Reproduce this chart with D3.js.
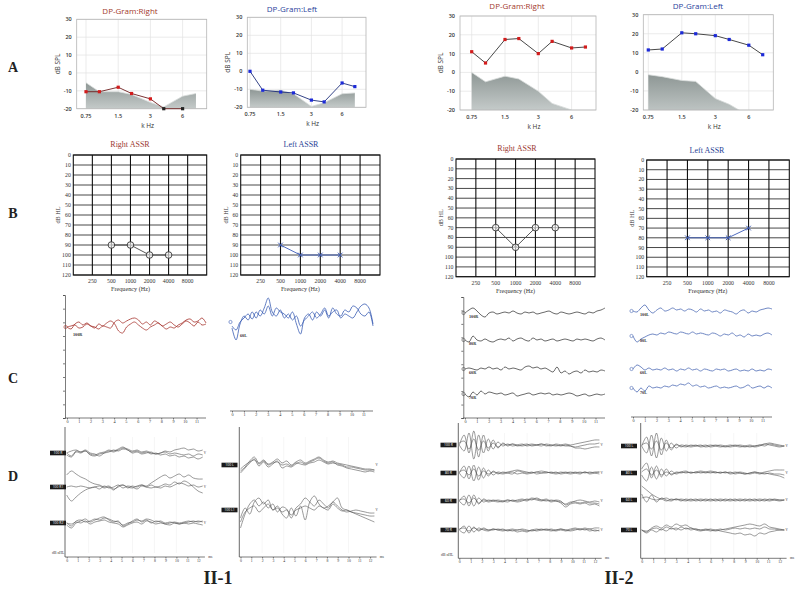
<!DOCTYPE html>
<html>
<head>
<meta charset="utf-8">
<script src="https://cdn.jsdelivr.net/npm/d3@7"></script>
<style>
  body { margin: 0; background: #fff; }
  svg { display: block; }
</style>
</head>
<body>
<svg id="fig" width="800" height="592"></svg>
<script>
// ---------- data: DP-gram (A) ----------
const dpFreqs = [0.75, 1, 1.5, 2, 3, 4, 6, 8];
const dpTickFreqs = [0.75, 1.5, 3, 6];
const dpTickLabels = ["0.75", "1.5", "3", "6"];
const dpLevels = [30, 20, 10, 0, -10, -20];

const dpRight1 = [-10.5, -10.5, -8, -11.5, -14.5, -20, -20];
const dpRightNoise1 = [-5.5, -10.5, -10.5, -12, -16.5, -19, -13, -11.5];
const dpLeft1 = [0, -10.5, -11.5, -12, -16, -17, -6.5, -8.5];
const dpLeftNoise1 = [-10, -11, -10.5, -12.5, -19.5, -17.5, -12.5, -12];
const dpRight2 = [11, 5, 17.5, 18, 10, 16.5, 13, 13.5];
const dpRightNoise2 = [0, -5, -2, -3.5, -10, -16.5, -20];
const dpLeft2 = [11.5, 12, 20.5, 20, 19, 17, 14, 9];
const dpLeftNoise2 = [-1.5, -2.5, -4.5, -5, -14, -17, -23];

// ---------- data: ASSR audiograms (B) ----------
const assrGridFreqs = [250, 500, 1000, 2000, 4000, 8000];
const assrLevels = [0, 10, 20, 30, 40, 50, 60, 70, 80, 90, 100, 110, 120];
const assrTestFreqs = [500, 1000, 2000, 4000];
const assrRight1 = [90, 90, 100, 100];
const assrLeft1 = [90, 100, 100, 100];
const assrRight2 = [70, 90, 70, 70];
const assrLeft2 = [80, 80, 80, 70];

// ---------- data: ASSR response waves (C) ----------
const cTicks = [0, 1, 2, 3, 4, 5, 6, 7, 8, 9, 10, 11];
const cTimeEnd = 11.8;
const cRight1a = [0, -2, 3, 5, 2, 4, 1, -1, 3, 1, 4, 6, 3, -4, -6, 0, 3, 5, 2, -1, -3, 0, 2, 4, 1, 3, 5, 2, 0, 3, 6, 4, 1, 5, 2, 3];
const cRight1b = [0, 1, 2, -1, 0, 3, 1, 0, -2, 1, 0, -1, 5, 7, 4, 6, 8, 9, 7, 3, 5, 2, 6, 4, 1, -2, 0, -1, 2, 4, 7, 8, 5, 6, 9, 4];
const cLeft1a = [-6, -18, -2, 6, 2, 10, 4, 12, 8, 16, 6, 14, 10, 8, 4, 10, -2, -12, 4, 8, 2, 10, 6, 12, 4, 14, 8, 6, 12, 10, 16, 14, 8, 6, 10, -4];
const cLeft1b = [-4, -8, 0, 4, 8, 3, 10, 6, 14, 24, 10, 6, 12, 4, 8, 2, 6, -4, 2, 6, 10, 4, 8, 14, 6, 10, 12, 4, 8, 6, 4, 10, 16, 18, 14, -2];
const cRight2 = [
  [0, 3, 5, 2, -2, -4, 0, 1, -1, 0, 1, 0, 2, 0, -1, 1, 0, 1, -1, 0, 1, 2, 0, -1, 1, 0, -1, 0, 1, 0, -1, 1, 0, 2, 3, 5],
  [0, -2, 4, 0, -1, 1, -1, -2, 0, 1, 0, 2, -1, 1, 2, 0, -1, 2, 0, 1, -1, 0, 1, -1, 0, 1, 0, -1, 1, 0, 1, 0, -1, 1, 2, 0],
  [0, 1, 0, -1, 1, 0, 2, 0, 1, -1, 2, 0, 1, 0, -1, 2, 3, 1, 2, 0, 1, -1, -3, 2, -4, -2, -5, -3, -2, -4, -1, -3, -2, -3, -1, -2],
  [0, -3, 2, -1, 3, 0, 2, 1, 0, 1, -1, 0, 1, -2, -1, 0, 1, -1, 0, 1, 0, 1, -1, 0, -1, 0, 1, 0, -2, -1, 0, -2, -1, 0, -1, 0]
];
const cLeft2 = [
  [0, -1, 3, 6, 1, -2, 1, 3, 0, 1, 3, 1, 2, 0, 2, 1, -1, 2, 0, 1, -1, 0, -2, 1, 0, -1, -3, 0, 1, -2, 0, -1, 1, 2, 3, 2],
  [0, -6, -3, -1, 1, 2, 1, 3, 2, 4, 3, 2, 4, 3, 2, 4, 2, 3, 2, 1, 3, 2, 0, 2, 1, 3, 0, 1, -1, 2, 0, 1, 0, 2, 3, 1],
  [0, 4, 2, -1, 1, -1, 0, -1, 1, -1, 0, -2, 0, -1, 1, -1, 0, -2, 0, -1, -2, 0, -1, 0, -2, -1, 0, -2, -1, -2, 0, -2, -1, -2, 0, -1],
  [0, -4, 0, -3, 2, 0, 1, 0, 2, 1, 3, 2, 4, 3, 5, 2, 3, 1, 2, 0, 1, 2, 0, 1, 0, 1, 2, 0, 1, 3, 0, 1, 2, 0, 2, 0]
];
const cLabelsRight2 = ["100R", "80R", "60R", "70R"];
const cLabelsLeft2 = ["100L", "80L", "60L", "70L"];

// ---------- data: ABR waves (D), three runs per level ----------
const dTicks = [0, 1, 2, 3, 4, 5, 6, 7, 8, 9, 10, 11, 12];
const dTimeEnd = 12.4;
const dRight1 = [
  [[0, -3, 2, 1, 3, 0, -1, -3, 0, 2, 1, 3, 5, 4, 2, 3, 1, 2, 0, -1, 0, 2, 1, 3, 4, 5, 3, 4, 2, 3],
   [0, 2, 3, 1, 2, -1, -2, 0, 1, 3, 2, 4, 6, 3, 1, 2, 0, 1, -1, 0, -2, -1, -3, -2, -4, -3, -5, -4, -6, -4],
   [-2, -4, 1, 0, 2, -2, -3, -1, 0, 1, 3, 2, 4, 3, 0, 1, -1, 0, 1, -1, 0, 1, -1, 0, -1, -2, -1, -3, -1, -2]],
  [[12, 16, 13, 10, 8, 5, 3, 2, 0, 1, -2, 0, 2, -1, 1, 0, 2, 1, 4, 7, 10, 12, 9, 11, 13, 10, 12, 9, 8, 8],
   [-8, -14, -10, -6, -3, -1, 0, -2, 1, -1, 0, 2, -1, 1, 0, -2, 1, 0, 2, 0, 1, 3, 2, 5, 3, 6, 4, 0, -4, -6],
   [0, 1, 0, 1, 0, -1, 0, 1, -1, 0, -3, 1, 2, 0, -1, 1, 2, 0, -1, 0, -1, 1, 0, 2, 4, 3, 1, 2, 0, 1]],
  [[0, -3, 2, 3, 1, 2, 4, 3, 5, 4, 2, 1, -2, 0, 1, 3, 2, 4, 3, 1, 2, 0, 1, 0, -1, 0, 1, 2, 1, 2],
   [-2, -5, 0, 2, 4, 1, 3, 5, 6, 3, 1, 2, -3, -1, 2, 4, 1, 3, 0, 2, 1, -1, 0, 1, 0, 1, 2, 1, 2, 1],
   [0, -1, 1, 0, 2, -1, 1, 2, 3, 1, 0, -1, -4, -2, 0, 1, -1, 2, 1, -1, 0, -1, -2, 0, -1, 0, -1, 0, -1, -2]]
];
const dLeft1 = [
  [[-6, -2, 4, 8, 2, 5, 1, 3, 6, 2, 4, 0, 3, 5, 2, 4, 6, 8, 5, 3, 4, 2, 1, 0, -1, -2, -3, -4, -4, -5],
   [-8, -3, 2, 6, -1, 3, -2, 1, 4, -3, -1, -2, 1, 3, 1, 3, 5, 7, 4, 2, 3, 0, -1, -3, -4, -5, -6, -7, -6, -7],
   [-4, 0, 3, 5, 1, 4, 0, 2, 3, 0, 1, -1, 2, 1, 0, 2, 3, 5, 3, 1, 2, 1, 0, -2, -2, -3, -4, -5, -5, -5]],
  [[-18, -4, 6, 10, 4, 8, 2, 6, -2, 3, 1, -8, 2, 6, 12, 8, 4, 10, 6, 2, 8, 4, 0, -2, -1, 0, -1, -2, -3, -3],
   [-8, 2, -4, 8, 12, 6, 10, 0, 4, -4, -8, 2, -6, 4, -10, 8, 14, 6, 2, 4, 8, 12, 2, 0, -2, -4, -6, -8, -10, -12],
   [-12, -2, 2, 4, -2, 2, 6, 0, 2, -2, 0, -5, 0, 2, 4, 2, 0, 4, 2, 0, 6, 2, -1, 0, -2, -3, -4, -5, -6, -6]]
];
const dRight2 = [
  [[0, 10, -8, 14, -12, 10, -6, 5, -3, 2, -1, 1, 0, -1, 0, 1, 0, -1, 1, 0, -1, 0, 1, 0, 1, 2, 3, 4, 5, 5],
   [0, -6, 12, -14, 10, -8, 6, -4, 3, -1, 1, -1, 0, 1, -1, 0, 0, 1, -1, 0, 0, -1, 0, -1, -2, -1, 0, 1, 1, 2],
   [2, 4, -4, 6, -5, 4, -3, 2, -2, 1, 0, 1, -1, 0, 1, -1, 0, 1, 0, -1, 1, 0, -1, -1, -3, -3, -4, -3, -2, -2]],
  [[0, 7, -6, 8, -7, 5, -3, 2, -1, 1, 0, -1, 2, 1, 0, 1, -1, 0, 1, 0, 1, -1, 0, 1, 0, -1, 1, 0, 1, 1],
   [0, -5, 7, -8, 6, -5, 3, -2, 1, 0, 1, 2, 3, 2, 1, 0, 1, 2, 1, 0, -1, 0, 1, 0, 1, 0, 1, -1, 0, 1],
   [1, 3, -2, 4, -3, 2, -1, 1, 0, -1, 0, 1, -1, 0, -1, 0, 1, 0, 0, 1, 0, 1, 0, -1, 0, 1, 0, 1, 0, -1]],
  [[0, 5, -5, 6, -3, 2, 0, 1, 0, -1, 1, 0, 1, 2, 1, 3, 2, 1, 2, 0, 1, 0, -4, -2, 0, 1, 0, -1, 0, -1],
   [0, -4, 6, -5, 3, -1, 1, 0, -1, 0, 1, 0, -1, 0, 2, 1, 3, 1, 0, 1, 0, -2, -6, -3, -2, -3, -2, -4, -3, -5],
   [1, 2, -2, 3, -2, 1, -1, 0, 1, 0, -1, 1, 0, 1, 0, 2, 1, 0, 1, -1, 0, -1, -3, -1, -1, -2, -1, -2, -2, -3]],
  [[0, 4, -3, 3, -1, 2, 0, 1, 0, -1, 0, 1, 0, 1, 0, -1, 0, 1, 0, 1, 0, 1, 0, 1, 2, 1, 2, 1, 2, 2],
   [0, -3, 4, -2, 2, 0, -1, 1, 0, 1, -1, 0, -2, -1, -2, 0, -1, 0, 1, 0, -1, 0, -1, 0, 1, 0, 1, -1, 0, -1],
   [1, 2, -1, 2, 0, 1, 0, 0, 1, 0, 0, -1, 0, 0, -1, 0, 1, 0, 0, -1, 0, 1, 0, -1, 0, 1, 0, 1, -1, 0]]
];
const dLeft2 = [
  [[0, 9, -10, 13, -9, 6, -4, 2, -1, 1, 0, 1, -1, 0, 1, 0, -1, 0, 1, 0, -1, 0, 1, 0, 1, 2, 3, 2, 1, 0],
   [0, -7, 11, -12, 8, -5, 3, -2, 1, 0, -1, 0, 1, -1, 0, 1, 0, -1, 0, 1, 0, -1, 0, -1, 0, 2, 1, 0, -1, 0],
   [1, 3, -3, 5, -4, 3, -2, 1, 0, -1, 1, 0, 0, 1, -1, 0, 1, 0, -1, 0, 1, 0, -1, 0, 1, 0, 2, 1, 0, 0]],
  [[4, 10, -5, 7, -4, 4, -2, 1, 0, 1, 0, 1, 2, 1, 0, 1, 0, 1, 0, 1, 0, -1, 0, 1, 0, 1, 2, 3, 3, 3],
   [-2, -8, 6, -6, 4, -3, 2, -1, 1, 2, 0, 1, 0, 1, 2, 1, 0, 1, -1, 0, 1, 0, -1, 0, -1, 0, -1, -2, -3, -5],
   [1, 4, -2, 3, -2, 1, -1, 0, 1, 0, 1, 0, 1, 0, 1, 0, 1, 0, 1, -1, 0, -1, 0, 1, 0, -1, 0, -1, -1, -2]],
  [[14, 10, 6, 3, 1, 2, 0, 1, -1, 1, 0, 1, -1, 1, 0, 1, -1, 1, 0, 1, -1, 1, 0, 1, -1, 1, 0, 1, 0, 0],
   [6, -2, 5, -2, 2, 0, -1, 1, 0, -1, 1, -1, 0, -1, 1, -1, 0, -1, 1, -1, 0, -1, 1, -1, 0, -1, 1, 0, -1, 0],
   [2, 3, 1, 0, 1, -1, 1, 0, 1, 0, -1, 0, 1, 0, -1, 0, 1, 0, -1, 0, 1, 0, -1, 0, 1, 0, -1, 0, 0, 0]],
  [[0, -2, 2, 4, 2, 5, 3, 6, 4, 5, 2, 1, 0, 1, 0, -1, 0, 1, 2, 3, 4, 5, 6, 5, 4, 6, 3, 2, 1, 0],
   [0, -3, 0, -2, 1, -1, 2, 0, 3, 1, 2, 0, -1, 0, -1, 0, -1, -2, -3, -4, -3, -5, -4, -6, -3, -4, -2, -1, 0, 0],
   [0, -1, 1, 2, 0, 3, 1, 2, 0, 2, 0, 1, 0, 0, 1, 0, 1, 0, 1, 2, 1, 2, 1, 2, 1, 3, 1, 1, 0, 0]]
];
const dLabelsRight1 = ["100 R", "100 R1", "100 R2"];
const dLabelsLeft1 = ["100 L", "100 L1"];
const dLabelsRight2 = ["100 R", "80 R", "60 R", "70 R"];
const dLabelsLeft2 = ["100 L", "80 L", "60 L", "70 L"];

// ---------- drawing ----------
const svg = d3.select("#fig");
svg.append("rect").attr("width", 800).attr("height", 592).attr("fill", "#fff");

const serif = "'Liberation Serif', 'DejaVu Serif', serif";
const sans = "'Open Sans', 'Liberation Sans', sans-serif";

// gradient for the noise floor
const defs = svg.append("defs");
const grad = defs.append("linearGradient").attr("id", "noiseGrad").attr("x1", 0).attr("y1", 0).attr("x2", 0).attr("y2", 1);
grad.append("stop").attr("offset", "0%").attr("stop-color", "#8e9795");
grad.append("stop").attr("offset", "100%").attr("stop-color", "#c4cac9");

// row letters and group names
[["A", 67], ["B", 213], ["C", 378], ["D", 476]].forEach(([t, y]) => {
  svg.append("text").attr("x", 13).attr("y", y + 5).attr("text-anchor", "middle")
    .attr("font-family", serif).attr("font-weight", "bold").attr("font-size", 14).attr("fill", "#222").text(t);
});
[["II-1", 218], ["II-2", 619]].forEach(([t, x]) => {
  svg.append("text").attr("x", x).attr("y", 584).attr("text-anchor", "middle")
    .attr("font-family", serif).attr("font-weight", "bold").attr("font-size", 18).attr("fill", "#222").text(t);
});

// ----- A: DP-grams -----
const dpPanels = [
  { title: "DP-Gram:Right", tc: "#a33a2c", pc: "#d21c1c", lc: "#6e1d1d", vals: dpRight1, noise: dpRightNoise1,
    l: 76.7, r: 206.7, t: 19.3, b: 108.7, x0: 86, oct: 32.2, tx: 130, ty: 13.5, ylab: true },
  { title: "DP-Gram:Left", tc: "#2b3f9c", pc: "#1c2ad8", lc: "#1e2f7a", vals: dpLeft1, noise: dpLeftNoise1,
    l: 247.3, r: 366, t: 17.3, b: 107.3, x0: 250, oct: 30.7, tx: 292, ty: 12, ylab: true },
  { title: "DP-Gram:Right", tc: "#a33a2c", pc: "#d21c1c", lc: "#333", vals: dpRight2, noise: dpRightNoise2,
    l: 460, r: 596, t: 16, b: 110, x0: 471.7, oct: 33.3, tx: 517, ty: 9, ylab: true },
  { title: "DP-Gram:Left", tc: "#2b3f9c", pc: "#1c2ad8", lc: "#333", vals: dpLeft2, noise: dpLeftNoise2,
    l: 643.3, r: 773.3, t: 14.7, b: 110, x0: 648.3, oct: 33.5, tx: 698, ty: 9, ylab: false }
];

dpPanels.forEach((p, k) => {
  const g = svg.append("g");
  const x = d3.scaleLog().base(2).domain([0.75, 6]).range([p.x0, p.x0 + 3 * p.oct]);
  const y = d3.scaleLinear().domain([-20, 30]).range([p.b, p.t]);
  const clipId = "dpclip" + k;
  defs.append("clipPath").attr("id", clipId).append("rect")
    .attr("x", p.l).attr("y", p.t).attr("width", p.r - p.l).attr("height", p.b - p.t);

  g.selectAll(".hg").data(dpLevels).join("line")
    .attr("x1", p.l).attr("x2", p.r).attr("y1", d => y(d)).attr("y2", d => y(d))
    .attr("stroke", "#e2e2e2").attr("stroke-width", 0.7);
  g.selectAll(".vg").data(dpTickFreqs).join("line")
    .attr("x1", d => x(d)).attr("x2", d => x(d)).attr("y1", p.t).attr("y2", p.b)
    .attr("stroke", "#e2e2e2").attr("stroke-width", 0.7);

  const area = d3.area().x((d, i) => x(dpFreqs[i])).y0(p.b).y1(d => y(d));
  const inner = g.append("g").attr("clip-path", `url(#${clipId})`);
  inner.append("path").datum(p.noise).attr("d", area).attr("fill", "url(#noiseGrad)");
  inner.append("path").datum(p.noise)
    .attr("d", d3.line().x((d, i) => x(dpFreqs[i])).y(d => y(d)))
    .attr("fill", "none").attr("stroke", "#d8dcdb").attr("stroke-width", 0.8);

  g.append("rect").attr("x", p.l).attr("y", p.t).attr("width", p.r - p.l).attr("height", p.b - p.t)
    .attr("fill", "none").attr("stroke", "#b5b5b5").attr("stroke-width", 0.8);

  g.append("path").datum(p.vals)
    .attr("d", d3.line().x((d, i) => x(dpFreqs[i])).y(d => y(d)))
    .attr("fill", "none").attr("stroke", p.lc).attr("stroke-width", 0.9);
  g.selectAll(".pt").data(p.vals).join("rect")
    .attr("x", (d, i) => x(dpFreqs[i]) - 1.6).attr("y", d => y(d) - 1.6)
    .attr("width", 3.2).attr("height", 3.2)
    .attr("fill", d => d <= -20 ? "#222" : p.pc);

  g.selectAll(".yl").data(dpLevels).join("text")
    .attr("x", p.l - 5).attr("y", d => y(d) + 2).attr("text-anchor", "end")
    .attr("font-family", sans).attr("font-weight", 600).attr("font-size", 5.5).attr("fill", "#333")
    .text(d => d);
  g.selectAll(".xl").data(dpTickFreqs).join("text")
    .attr("x", d => x(d)).attr("y", p.b + 9).attr("text-anchor", "middle")
    .attr("font-family", sans).attr("font-weight", 600).attr("font-size", 5.5).attr("fill", "#333")
    .text((d, i) => dpTickLabels[i]);
  g.append("text").attr("x", (p.l + p.r) / 2 + 6).attr("y", p.b + 19).attr("text-anchor", "middle")
    .attr("font-family", sans).attr("font-size", 6.5).attr("fill", "#333").text("k Hz");
  if (p.ylab) {
    g.append("text").attr("transform", `translate(${p.l - 17},${y(5)}) rotate(-90)`).attr("text-anchor", "middle")
      .attr("font-family", sans).attr("font-size", 6.5).attr("fill", "#333").text("dB SPL");
  }
  g.append("text").attr("x", p.tx).attr("y", p.ty).attr("text-anchor", "middle")
    .attr("font-family", sans).attr("font-size", 8).attr("fill", p.tc).text(p.title);
});

// ----- B: ASSR audiograms -----
const assrPanels = [
  { title: "Right ASSR", tc: "#9c3a34", vals: assrRight1, mark: "o", joined: 4, l: 73.3, r: 206.7, t: 155, b: 275, tx: 130, ty: 147 },
  { title: "Left ASSR", tc: "#2a3f96", vals: assrLeft1, mark: "x", joined: 4, l: 240.7, r: 380, t: 155, b: 275, tx: 301, ty: 147 },
  { title: "Right ASSR", tc: "#9c3a34", vals: assrRight2, mark: "o", joined: 3, l: 456, r: 595, t: 159, b: 276.7, tx: 517, ty: 151 },
  { title: "Left ASSR", tc: "#2a3f96", vals: assrLeft2, mark: "x", joined: 4, l: 646.7, r: 789.3, t: 160, b: 276.7, tx: 707, ty: 153 }
];

assrPanels.forEach(p => {
  const g = svg.append("g");
  const x = d3.scaleLog().base(2).domain([125, 16000]).range([p.l, p.r]);
  const y = d3.scaleLinear().domain([0, 120]).range([p.t, p.b]);

  g.selectAll(".h").data(assrLevels).join("line")
    .attr("x1", p.l).attr("x2", p.r).attr("y1", d => y(d)).attr("y2", d => y(d))
    .attr("stroke", "#333").attr("stroke-width", 0.9);
  g.selectAll(".v").data(assrGridFreqs).join("line")
    .attr("x1", d => x(d)).attr("x2", d => x(d)).attr("y1", p.t).attr("y2", p.b)
    .attr("stroke", "#111").attr("stroke-width", 1.1);
  g.append("rect").attr("x", p.l).attr("y", p.t).attr("width", p.r - p.l).attr("height", p.b - p.t)
    .attr("fill", "none").attr("stroke", "#111").attr("stroke-width", 1.1);

  g.selectAll(".yl").data(assrLevels).join("text")
    .attr("x", p.l - 2.5).attr("y", d => y(d) + 2).attr("text-anchor", "end")
    .attr("font-family", serif).attr("font-size", 5.8).attr("fill", "#333").text(d => d);
  g.selectAll(".xl").data(assrGridFreqs).join("text")
    .attr("x", d => x(d)).attr("y", p.b + 8).attr("text-anchor", "middle")
    .attr("font-family", serif).attr("font-size", 5.8).attr("fill", "#333").text(d => d);
  g.append("text").attr("x", x(1000)).attr("y", p.b + 16).attr("text-anchor", "middle")
    .attr("font-family", serif).attr("font-size", 6.2).attr("fill", "#333").text("Frequency (Hz)");
  g.append("text").attr("transform", `translate(${p.l - 13},${y(60)}) rotate(-90)`).attr("text-anchor", "middle")
    .attr("font-family", serif).attr("font-size", 6.2).attr("fill", "#333").text("dB HL");
  g.append("text").attr("x", p.tx).attr("y", p.ty).attr("text-anchor", "middle")
    .attr("font-family", serif).attr("font-size", 8).attr("fill", p.tc).text(p.title);

  const isX = p.mark === "x";
  const col = isX ? "#3c5bb8" : "#444";
  const pts = p.vals.map((v, i) => [x(assrTestFreqs[i]), y(v)]);
  g.append("path").attr("d", d3.line()(pts.slice(0, p.joined)))
    .attr("fill", "none").attr("stroke", col).attr("stroke-width", 0.9);
  if (isX) {
    pts.forEach(([px, py]) => {
      g.append("path").attr("d", `M${px - 2.3},${py - 2.3}L${px + 2.3},${py + 2.3}M${px - 2.3},${py + 2.3}L${px + 2.3},${py - 2.3}`)
        .attr("stroke", col).attr("stroke-width", 1);
    });
  } else {
    g.selectAll(".mk").data(pts).join("circle")
      .attr("cx", d => d[0]).attr("cy", d => d[1]).attr("r", 3.3)
      .attr("fill", "#fff").attr("fill-opacity", 0.6).attr("stroke", "#333").attr("stroke-width", 0.9);
  }
});

// ----- wave helpers -----
function waveLine(vals, xScale, tEnd, base) {
  const t = d3.scaleLinear().domain([0, vals.length - 1]).range([0, tEnd]);
  const amp = d3.scaleLinear().domain([0, 1]).range([base, base - 1]);
  return d3.line().x((v, i) => xScale(t(i))).y(v => amp(v)).curve(d3.curveCatmullRom)(vals);
}
function timeAxis(g, xScale, ticks, yPos, size) {
  const ax = g.append("g").attr("transform", `translate(0,${yPos})`)
    .call(d3.axisBottom(xScale).tickValues(ticks).tickSize(1.5).tickPadding(1));
  ax.attr("font-size", size).attr("font-family", serif);
  ax.selectAll("path,line").attr("stroke", "#444").attr("stroke-width", 0.7);
  ax.selectAll("text").attr("fill", "#333");
  return ax;
}
function ampAxis(g, xPos, top, bottom, n) {
  const s = d3.scaleLinear().domain([0, n]).range([bottom, top]);
  const ax = g.append("g").attr("transform", `translate(${xPos},0)`)
    .call(d3.axisLeft(s).ticks(n).tickSize(2).tickFormat(""));
  ax.selectAll("path,line").attr("stroke", "#444").attr("stroke-width", 0.7);
}

// ----- C: ASSR waves -----
const cPanels = [
  { x0: 67, x1: 206, axisY: 418, vAxis: [65, 295, 418], color: "#a4302a",
    traces: [{ vals: cRight1a, base: 327 }, { vals: cRight1b, base: 327 }], labels: [["100R", 73, 336, 327]] },
  { x0: 232, x1: 373, axisY: 411, vAxis: null, color: "#3a5db4",
    traces: [{ vals: cLeft1a, base: 322 }, { vals: cLeft1b, base: 322 }], labels: [["60L", 240, 337, 322]] },
  { x0: 465, x1: 605, axisY: 418, vAxis: [463.3, 297, 418], color: "#444",
    traces: cRight2.map((v, i) => ({ vals: v, base: [313, 340, 369, 394][i] })),
    labels: cLabelsRight2.map((s, i) => [s, 469, [318, 345, 374, 399][i], [313, 340, 369, 394][i]]) },
  { x0: 633, x1: 772, axisY: 417, vAxis: null, color: "#4a68b4",
    traces: cLeft2.map((v, i) => ({ vals: v, base: [311, 336, 369, 388][i] })),
    labels: cLabelsLeft2.map((s, i) => [s, 640, [316, 342, 374, 394][i], [311, 336, 369, 388][i]]) }
];

cPanels.forEach(p => {
  const g = svg.append("g");
  const x = d3.scaleLinear().domain([0, 12]).range([p.x0, p.x0 + (p.x1 - p.x0) * 12 / cTimeEnd]);
  if (p.vAxis) ampAxis(g, p.vAxis[0], p.vAxis[1], p.vAxis[2], 9);
  timeAxis(g, x, cTicks, p.axisY, 4.2).select(".domain").attr("d", `M${p.x0 - 2},0H${p.x1}`);
  p.traces.forEach(tr => {
    g.append("path").attr("d", waveLine(tr.vals, x, cTimeEnd, tr.base))
      .attr("fill", "none").attr("stroke", p.color).attr("stroke-width", 0.8);
  });
  p.labels.forEach(([s, lx, ly, by]) => {
    g.append("circle").attr("cx", p.x0 - 1.5).attr("cy", by).attr("r", 1.6)
      .attr("fill", "none").attr("stroke", p.color).attr("stroke-width", 0.6);
    g.append("text").attr("x", lx).attr("y", ly).attr("font-family", serif).attr("font-weight", "bold")
      .attr("font-size", 4.2).attr("fill", "#333").text(s);
  });
});

// ----- D: ABR waves -----
const dPanels = [
  { ax: 65, top: 427, axisY: 557, x0: 66.7, step: 10.97, groups: dRight1, bases: [453, 487, 523], labels: dLabelsRight1, lx: 50, nhl: [52, 554] },
  { ax: 239.3, top: 427, axisY: 557, x0: 240.5, step: 10.8, groups: dLeft1, bases: [465, 510], labels: dLabelsLeft1, lx: 221.5, nhl: null },
  { ax: 458.3, top: 423, axisY: 558.3, x0: 459.3, step: 11.3, groups: dRight2, bases: [445, 473, 501, 530], labels: dLabelsRight2, lx: 440.5, nhl: [441, 556] },
  { ax: 640.7, top: 423, axisY: 558.3, x0: 641.7, step: 11.5, groups: dLeft2, bases: [446, 473, 500, 530], labels: dLabelsLeft2, lx: 621, nhl: null }
];

dPanels.forEach(p => {
  const g = svg.append("g");
  const x = d3.scaleLinear().domain([0, 12]).range([p.x0, p.x0 + 12 * p.step]);
  // faint background grid
  g.selectAll(".fg").data([2, 4, 6, 8, 10]).join("line")
    .attr("x1", d => x(d)).attr("x2", d => x(d)).attr("y1", p.top + 10).attr("y2", p.axisY - 4)
    .attr("stroke", "#f0f0f0").attr("stroke-width", 0.6);
  g.append("line").attr("x1", p.ax).attr("x2", p.ax).attr("y1", p.top).attr("y2", p.axisY)
    .attr("stroke", "#444").attr("stroke-width", 0.8);
  timeAxis(g, x, dTicks, p.axisY, 3.8).select(".domain").attr("d", `M${p.ax},0H${x(12.6)}`);
  g.append("text").attr("x", x(12.9)).attr("y", p.axisY + 1).attr("font-family", serif)
    .attr("font-size", 3.5).attr("fill", "#333").text("ms");
  if (p.nhl) {
    g.append("text").attr("x", p.nhl[0]).attr("y", p.nhl[1]).attr("font-family", serif)
      .attr("font-size", 3.8).attr("fill", "#333").text("dB nHL");
  }
  p.groups.forEach((runs, gi) => {
    const base = p.bases[gi];
    runs.forEach(vals => {
      g.append("path").attr("d", waveLine(vals, x, dTimeEnd, base))
        .attr("fill", "none").attr("stroke", "#555").attr("stroke-width", 0.6);
    });
    g.append("rect").attr("x", p.lx).attr("y", base - 2.3).attr("width", 16).attr("height", 4.6).attr("fill", "#1a1a1a");
    g.append("text").attr("x", p.lx + 8).attr("y", base + 1.3).attr("text-anchor", "middle")
      .attr("font-family", sans).attr("font-size", 3.4).attr("fill", "#fff").text(p.labels[gi]);
    g.append("text").attr("x", x(12.5)).attr("y", base + 1).attr("font-family", serif)
      .attr("font-size", 3.2).attr("fill", "#333").text("V");
  });
});
</script>
</body>
</html>
